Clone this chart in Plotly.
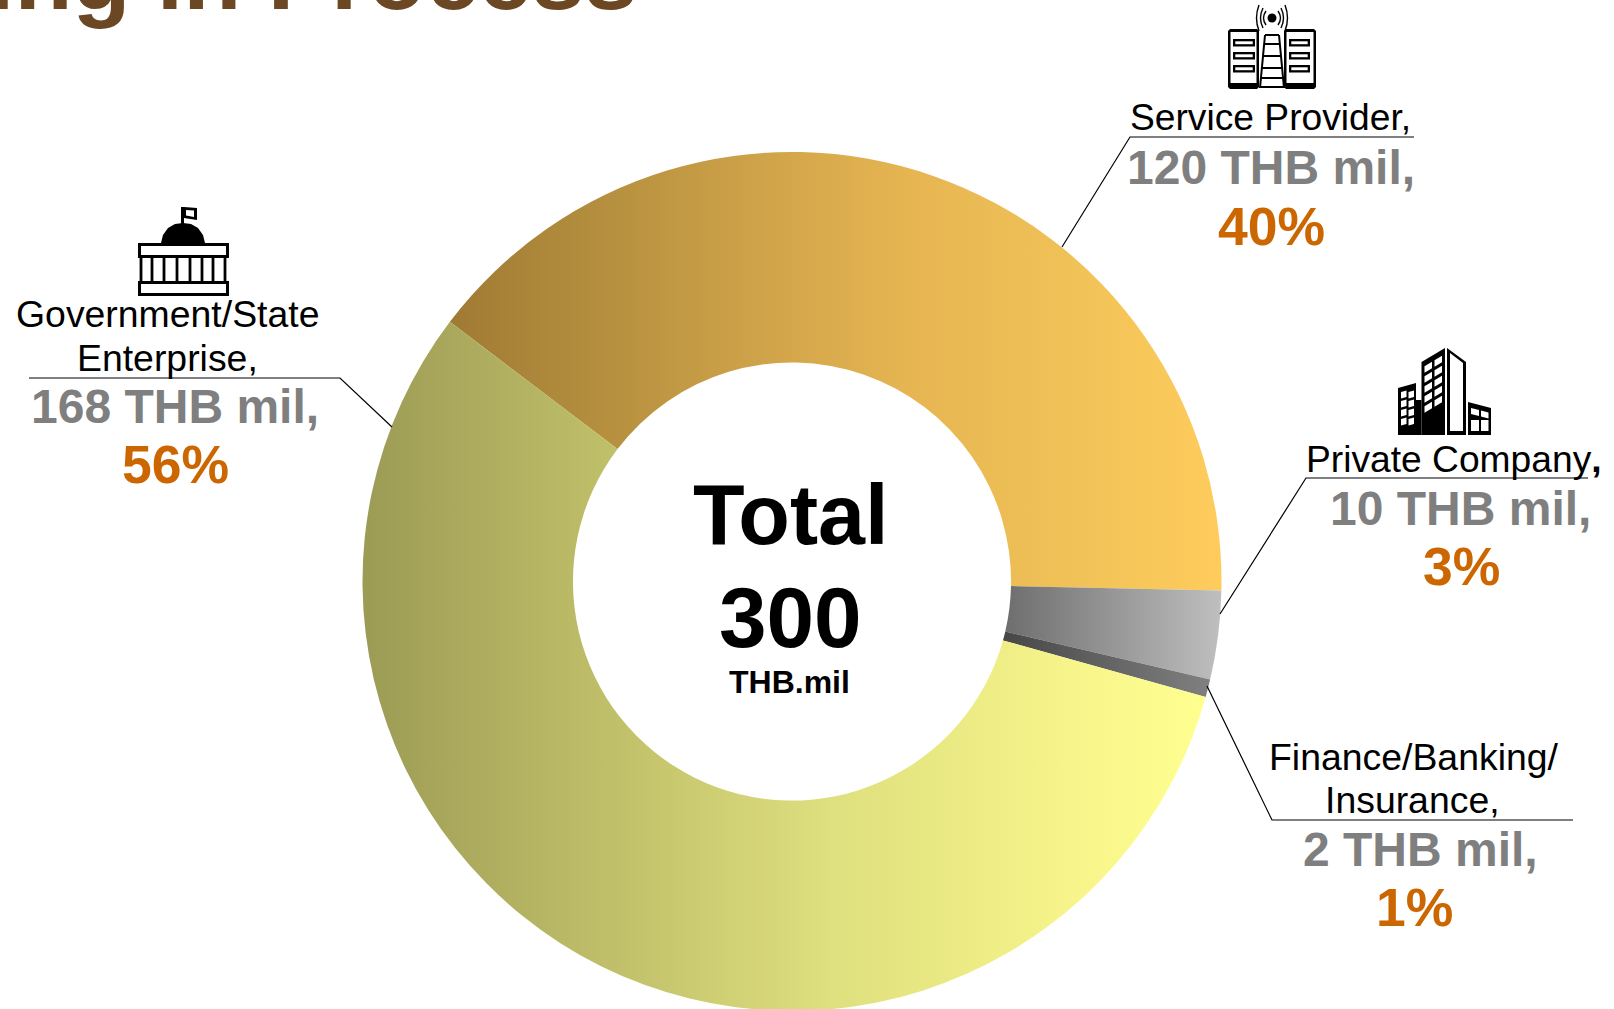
import plotly.graph_objects as go
import json

W, H = 1614, 1100  # figure runs past the window so the ring is cut at the page bottom

categories = ["Service Provider", "Private Company", "Finance/Banking/Insurance", "Government/State Enterprise"]
values = [120, 10, 2, 168]
pct_labels = ["40%", "3%", "1%", "56%"]
amount_labels = ["120 THB mil,", "10 THB mil,", "2 THB mil,", "168 THB mil,"]
base_colors = ["#E0AE50", "#999999", "#666666", "#D0CF70"]
gradient_stops = [
    [[0, "#A07A33"], [0.195, "#B58F3F"], [0.59, "#E6B552"], [0.83, "#F2C358"], [1, "#FFCC5C"]],
    [[0, "#6E6E6E"], [1, "#BFBFBF"]],
    [[0, "#474747"], [1, "#808080"]],
    [[0, "#9C9B55"], [0.235, "#B9B865"], [0.555, "#DEDF7E"], [0.86, "#F8F68B"], [1, "#FFFF90"]],
]

FONT = "Liberation Sans, Arial, sans-serif"
GREY, ORANGE, BROWN = "#7F7F7F", "#CC6600", "#6B4723"

def X(p): return p / W
def Y(p): return 1 - p / H

cx, cy, R = 792, 581.5, 429.5

fig = go.Figure(go.Pie(
    labels=categories, values=values, sort=False, direction="clockwise",
    rotation=-52.8, hole=0.51, textinfo="none", hoverinfo="none", showlegend=False,
    marker=dict(colors=base_colors, line=dict(width=0)),
    domain=dict(x=[X(cx - R), X(cx + R)], y=[Y(cy + R), Y(cy - R)]),
))

shapes = []
def line(pts, w=1.2, c="#000000"):
    d = "M" + " L".join(f"{X(a):.5f},{Y(b):.5f}" for a, b in pts)
    shapes.append(dict(type="path", path=d, xref="paper", yref="paper", line=dict(color=c, width=w)))
def poly(pts, fill="#000000"):
    d = "M" + " L".join(f"{X(a):.5f},{Y(b):.5f}" for a, b in pts) + " Z"
    shapes.append(dict(type="path", path=d, xref="paper", yref="paper", fillcolor=fill, line=dict(width=0)))
def rect(x0, y0, x1, y1, fill="#FFFFFF"):
    poly([(x0, y0), (x1, y0), (x1, y1), (x0, y1)], fill)
def curve(x0, y0, xc, yc, x1, y1, w=1.4):
    d = f"M{X(x0):.5f},{Y(y0):.5f} Q{X(xc):.5f},{Y(yc):.5f} {X(x1):.5f},{Y(y1):.5f}"
    shapes.append(dict(type="path", path=d, xref="paper", yref="paper", line=dict(color="#000", width=w)))

# leader lines
line([(29, 378), (340, 378), (392, 427)])
line([(1414, 137), (1130, 137), (1062, 247)])
line([(1588, 478), (1306, 478), (1220, 614)])
line([(1573, 820), (1272, 820), (1207, 686)])

# government icon
rect(138, 243, 229, 258, "#000"); rect(141, 246, 226, 255)
rect(138, 281, 229, 296, "#000"); rect(141, 284, 226, 293)
for px in [141, 152, 164, 177, 190, 202, 213, 225]:
    rect(px - 1.4, 258, px + 1.4, 281, "#000")
poly([(161, 243), (163, 235), (168, 228), (175, 224), (183, 223), (191, 224), (198, 228), (203, 235), (205, 243)])
rect(181, 207, 184, 224, "#000")
poly([(184, 207), (197, 208), (197, 220), (184, 218)])
poly([(186, 210), (194, 210.5), (194, 217), (186, 215.5)], "#FFF")

# service provider icon
for x0, x1, sx0, sx1 in [(1228, 1259, 1233, 1255), (1284, 1316, 1289, 1310)]:
    poly([(x0 + 2, 29), (x1 - 2, 29), (x1, 31), (x1, 87), (x1 - 2, 89), (x0 + 2, 89), (x0, 87), (x0, 31)])
    rect(x0 + 2.5, 32, x1 - 2.5, 83)
    for sy in [39, 52, 65]:
        rect(sx0, sy, sx1, sy + 7.5, "#000")
        rect(sx0 + 2.3, sy + 2.3, sx1 - 2.3, sy + 5.2)
line([(1265, 35), (1260, 88)], 2); line([(1279, 35), (1284, 88)], 2)
for ry, a, b in [(35, 1265, 1279), (44, 1264, 1280), (56, 1263, 1281), (68, 1262, 1282), (78, 1261, 1283), (87, 1260, 1284)]:
    line([(a, ry), (b, ry)], 2)
shapes.append(dict(type="circle", xref="paper", yref="paper", x0=X(1267.5), x1=X(1276.5), y0=Y(22.5), y1=Y(13.5),
                   fillcolor="#000", line=dict(width=0)))
for off, rise in [(8, 7), (11, 10), (15, 13)]:
    curve(1272 - off + 2, 18 - rise, 1272 - off - 3, 18, 1272 - off + 2, 18 + rise)
    curve(1272 + off - 2, 18 - rise, 1272 + off + 3, 18, 1272 + off - 2, 18 + rise)

# private company icon
poly([(1421.5, 362), (1445, 348), (1445, 435), (1421.5, 435)])
poly([(1447, 348), (1466, 362), (1466, 435), (1447, 435)])
poly([(1450, 353), (1463, 363), (1463, 431), (1450, 431)], "#FFF")
poly([(1398, 388), (1416, 383), (1416, 400), (1421.5, 400), (1421.5, 435), (1398, 435)])
poly([(1468, 402), (1491, 408), (1491, 435), (1468, 435)])
for ty in (368, 378, 388, 398, 408):
    for tx in (1424.5, 1434.5):
        s = (tx - 1421.5) * 0.6
        poly([(tx, ty - s), (tx + 7.5, ty - s - 4.5), (tx + 7.5, ty - s + 2), (tx, ty - s + 6.5)], "#FFF")
for ty in (392, 401, 410, 419):
    for tx in (1401, 1408.5):
        poly([(tx, ty), (tx + 5.5, ty - 1.5), (tx + 5.5, ty + 5), (tx, ty + 6.5)], "#FFF")
for tx, w in [(1471, 8), (1481, 7.5)]:
    off = (tx - 1471) * .26
    poly([(tx, 408 + off), (tx + w, 410 + off), (tx + w, 416 + off), (tx, 414 + off)], "#FFF")
    rect(tx, 420, tx + w, 431)

def text(x, y, s, size, color="#000000", bold=False, anchor="center"):
    fig.add_annotation(x=X(x), y=Y(y), xref="paper", yref="paper", text=f"<b>{s}</b>" if bold else s,
                       showarrow=False, xanchor=anchor, yanchor="middle",
                       font=dict(family=FONT, size=size, color=color))

# centre
text(790.5, 515, "Total", 84.5, bold=True)
text(790, 617.5, "300", 85.5, bold=True)
text(789.5, 682, "THB.mil", 32, bold=True)

# labels
text(167, 314, "Government/State", 37.4)
text(167, 358, "Enterprise,", 37.4)
text(175, 406, amount_labels[3], 48, GREY, True)
text(175.5, 464.5, pct_labels[3], 53.5, ORANGE, True)

text(1270, 117, "Service Provider,", 37.2)
text(1271, 168, amount_labels[0], 48, GREY, True)
text(1271, 227, pct_labels[0], 53.5, ORANGE, True)

text(1453.5, 459, "Private Company<b>,</b>", 37.2)
text(1460, 508, amount_labels[1], 48, GREY, True)
text(1461, 566, pct_labels[1], 53.5, ORANGE, True)

text(1413.5, 757, "Finance/Banking/", 37.4)
text(1412.5, 800, "Insurance,", 37.4)
text(1420, 849, amount_labels[2], 48, GREY, True)
text(1414.5, 907.5, pct_labels[2], 53.5, ORANGE, True)

# heading, cut by the top of the page
text(639, -24, "ing in Process", 95, BROWN, True, anchor="right")

fig.update_layout(width=W, height=H, margin=dict(l=0, r=0, t=0, b=0), autosize=False,
                  paper_bgcolor="#FFFFFF", plot_bgcolor="#FFFFFF", shapes=shapes)

post = "var G=" + json.dumps(gradient_stops) + ";" + """
document.documentElement.style.overflow='hidden';
document.body.style.overflow='hidden';
document.body.style.margin='0';
var gd=document.getElementById('{plot_id}');
var NS='http://www.w3.org/2000/svg';
var svg=gd.querySelector('.main-svg');
var defs=document.createElementNS(NS,'defs');
G.forEach(function(stops,i){
  var g=document.createElementNS(NS,'linearGradient');
  g.setAttribute('id','sliceGrad'+i);g.setAttribute('x1','0');g.setAttribute('x2','1');g.setAttribute('y1','0');g.setAttribute('y2','0');
  stops.forEach(function(s){
    var st=document.createElementNS(NS,'stop');
    st.setAttribute('offset',s[0]);st.setAttribute('stop-color',s[1]);g.appendChild(st);
  });
  defs.appendChild(g);
});
svg.insertBefore(defs,svg.firstChild);
gd.querySelectorAll('.slice path.surface').forEach(function(p,i){
  p.style.fill='url(#sliceGrad'+i+')';
});
"""
fig.write_html("out.html", post_script=post, config=dict(displayModeBar=False))
